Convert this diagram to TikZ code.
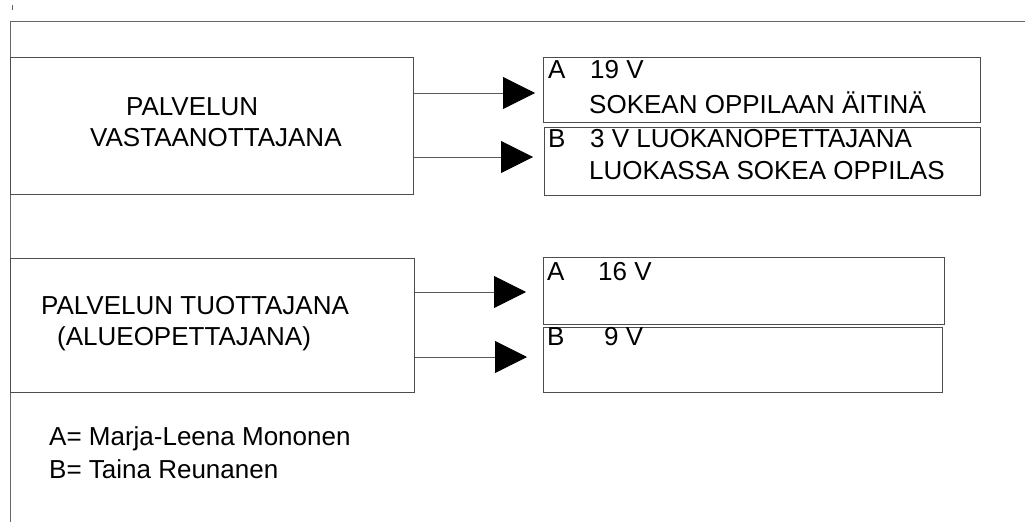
\documentclass[tikz,border=0pt]{standalone}
\usepackage{fontspec}
\setmainfont{Liberation Sans}
\usetikzlibrary{arrows.meta}

\begin{document}
\begin{tikzpicture}[x=1pt, y=-1pt, every node/.style={font=\fontsize{26}{31}\selectfont, inner sep=0pt}, bx/.style={draw=black!70, line width=0.8pt, anchor=north west}, t/.style={anchor=base west}, ar/.style={draw=black!65, line width=0.8pt, -{Triangle[length=32pt, width=32pt, color=black]}}, fr/.style={draw=black!60, line width=0.8pt}]
	\useasboundingbox (0,0) rectangle (1025,522);
	\draw[fr] (10,522) |- (1025,21);
	\draw[fr] (12,5) -- (12,10);
	\node[bx, minimum width=403pt, minimum height=137pt] (vast) at (10,57) {};
	\node[bx, minimum width=404pt, minimum height=134pt] (tuot) at (10,258) {};
	\node[bx, minimum width=437pt, minimum height=65pt] (rA) at (543,57) {};
	\node[bx, minimum width=436pt, minimum height=68pt] (rB) at (544,127) {};
	\node[bx, minimum width=401pt, minimum height=67pt] (tA) at (543,257) {};
	\node[bx, minimum width=399pt, minimum height=65pt] (tB) at (543,327) {};
	\node[t] (v1) at (126,115) {PALVELUN};
	\node[t] (v2) at (90,146) {VASTAANOTTAJANA};
	\node[t] (p1) at (41,314) {PALVELUN TUOTTAJANA};
	\node[t] (p2) at (57,345) {(ALUEOPETTAJANA)};
	\node[t] (la) at (49,445) {A= Marja-Leena Mononen};
	\node[t] (lb) at (49,478) {B= Taina Reunanen};
	\node[t] (ra) at (548,78) {A};
	\node[t] (ra1) at (590,78) {19 V};
	\node[t] (ra2) at (589,113) {SOKEAN OPPILAAN ÄITINÄ};
	\node[t] (rb) at (548,147) {B};
	\node[t] (rb1) at (590,147) {3 V LUOKANOPETTAJANA};
	\node[t] (rb2) at (589,179) {LUOKASSA SOKEA OPPILAS};
	\node[t] (ta) at (547,280) {A};
	\node[t] (ta1) at (598,280) {16 V};
	\node[t] (tb) at (547,345) {B};
	\node[t] (tb1) at (604,345) {9 V};
	\coordinate (kA) at (535,93);
	\coordinate (kB) at (533,157);
	\coordinate (kC) at (526,292);
	\coordinate (kD) at (527,357);
	\draw[ar] (vast.east |- kA) -- (kA);
	\draw[ar] (vast.east |- kB) -- (kB);
	\draw[ar] (tuot.east |- kC) -- (kC);
	\draw[ar] (tuot.east |- kD) -- (kD);
\end{tikzpicture}
\end{document}
